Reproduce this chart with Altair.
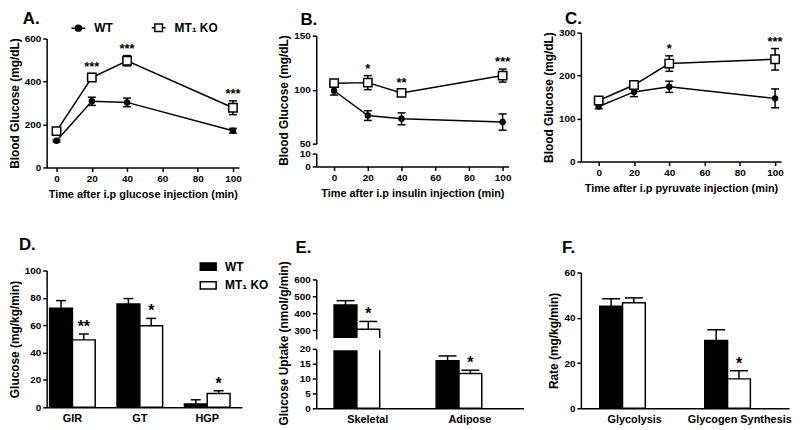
import altair as alt
import pandas as pd

FONT = "Liberation Sans"
SERIES = ["WT", "MT\u2081 KO"]
PANEL_LETTERS = ["A.", "B.", "C.", "D.", "E.", "F."]

# ---------------- data ----------------
TIMES = [0, 20, 40, 100]
TIME_TICKS = [0, 20, 40, 60, 80, 100]

a_wt = [124, 308, 303, 171]
a_wt_err = [5, 19, 20, 11]
a_ko = [169, 419, 497, 278]
a_ko_err = [8, 18, 24, 32]
a_stars = ["", "***", "***", "***"]

b_wt = [99, 76, 73, 70]
b_wt_err = [4, 4.5, 5.5, 7.5]
b_ko = [106, 106.5, 97, 113]
b_ko_err = [2.5, 6.5, 3, 6]
b_stars = ["", "*", "**", "***"]

c_wt = [128, 162, 174, 147]
c_wt_err = [5, 11, 13, 22]
c_ko = [142, 178, 228, 238]
c_ko_err = [5, 8, 18, 25]
c_stars = ["", "", "*", "***"]

d_cats = ["GIR", "GT", "HGP"]
d_wt = [72.5, 75.5, 2.5]
d_wt_err = [5.5, 4, 3]
d_ko = [49.3, 59.7, 10.1]
d_ko_err = [4.3, 5.3, 2]
d_stars = ["**", "*", "*"]

e_cats = ["Skeletal", "Adipose"]
e_wt = [450, 16.0]
e_wt_err = [25, 1.6]
e_ko = [307, 11.7]
e_ko_err = [46, 1.1]
e_stars = ["*", "*"]

f_cats = ["Glycolysis", "Glycogen Synthesis"]
f_wt = [45.1, 30.0]
f_wt_err = [3.3, 4.7]
f_ko = [46.6, 13.0]
f_ko_err = [2.2, 3.6]
f_stars = ["", "*"]


def long_df(keys, wt, wt_err, ko, ko_err, stars):
    rows = []
    for i, k in enumerate(keys):
        for s, m, e, st in ((SERIES[0], wt[i], wt_err[i], ""),
                            (SERIES[1], ko[i], ko_err[i], stars[i])):
            rows.append({"key": k, "series": s, "mean": m,
                         "lo": m - e, "hi": m + e, "star": st})
    return pd.DataFrame(rows)


dfA = long_df(TIMES, a_wt, a_wt_err, a_ko, a_ko_err, a_stars)
dfB = long_df(TIMES, b_wt, b_wt_err, b_ko, b_ko_err, b_stars)
dfC = long_df(TIMES, c_wt, c_wt_err, c_ko, c_ko_err, c_stars)
dfD = long_df(d_cats, d_wt, d_wt_err, d_ko, d_ko_err, d_stars)
dfE = long_df(e_cats, e_wt, e_wt_err, e_ko, e_ko_err, e_stars)
dfF = long_df(f_cats, f_wt, f_wt_err, f_ko, f_ko_err, f_stars)

CAP = "M-1,0H1"
LEFT = 46          # left edge of first-column plot areas
COL_GAP = 58
COL1_W = 318 - COL_GAP - LEFT   # 214
COL2_W = 585 - COL_GAP - 318    # 209


def letter(idx, dx, dy):
    """Panel letter drawn as a text mark just outside the plot's top-left corner."""
    return alt.Chart(pd.DataFrame({"t": [PANEL_LETTERS[idx]]})).mark_text(
        font=FONT, fontSize=17, fontWeight="bold", color="black", align="left",
        baseline="top").encode(x=alt.value(dx), y=alt.value(dy), text="t:N")


def yaxis(values, title, titleY=None):
    kw = dict(values=values, title=title, titleFontSize=12, orient="left")
    if titleY is not None:
        kw["titleY"] = titleY
    return alt.Axis(**kw)


def line_layers(df, xdom, xrange, ydom, yrange, yvals, ytitle, xtitle,
                only_axis=False, titleY=None):
    xs = alt.Scale(domain=xdom, range=xrange, nice=False, zero=False)
    ys = alt.Scale(domain=ydom, range=yrange, nice=False, zero=False)
    xax = alt.Axis(values=TIME_TICKS, title=xtitle, titlePadding=5)
    yax = yaxis(yvals, ytitle, titleY)

    def X():
        return alt.X("key:Q", scale=xs, axis=xax)

    def Y(f):
        return alt.Y(f"{f}:Q", scale=ys, axis=yax)

    base = alt.Chart(df)
    if only_axis:
        return [base.mark_point(opacity=0, clip=True).encode(X(), Y("mean"))]
    return [
        base.mark_line(color="black", strokeWidth=1.5).encode(X(), Y("mean"), detail="series:N"),
        base.mark_rule(color="black", strokeWidth=1.5).encode(X(), Y("lo"), y2="hi:Q"),
        base.mark_point(shape=CAP, size=64, stroke="black", strokeWidth=1.5, filled=False,
                        opacity=1).encode(X(), Y("lo")),
        base.mark_point(shape=CAP, size=64, stroke="black", strokeWidth=1.5, filled=False,
                        opacity=1).encode(X(), Y("hi")),
        base.transform_filter(alt.datum.series == SERIES[0]).mark_circle(
            color="black", size=42, opacity=1).encode(X(), Y("mean")),
        base.transform_filter(alt.datum.series == SERIES[1]).mark_square(
            fill="white", stroke="black", strokeWidth=1.5, size=72, opacity=1).encode(X(), Y("mean")),
        base.transform_filter(alt.datum.star != "").mark_text(
            font=FONT, fontSize=13, fontWeight="bold", color="black", baseline="alphabetic",
            dy=-3).encode(X(), Y("hi"), text="star:N"),
    ]


def band(width, n, first, step, bw):
    pi = 1 - bw / step
    outer = width - step * (n - pi)
    return dict(paddingInner=pi, paddingOuter=outer / (2 * step), align=first / outer,
                range=[0, width])


def bar_layers(df, cats, bandp, ydom, yrange, yvals, ytitle, legend=None, cap=10,
               titleY=None, seg=None):
    xs = alt.Scale(domain=cats, **bandp)
    xax = alt.Axis(title=None, ticks=False, labelPadding=5, labelFontSize=11, labelAngle=0)
    ys = alt.Scale(domain=ydom, range=yrange, nice=False, zero=False, clamp=True)
    yax = yaxis(yvals, ytitle, titleY)
    X = alt.X("key:N", scale=xs, axis=xax, sort=cats)
    XO = alt.XOffset("series:N", scale=alt.Scale(domain=SERIES), sort=SERIES)

    def Y(f):
        return alt.Y(f"{f}:Q", scale=ys, axis=yax)

    fill = alt.Fill("series:N", scale=alt.Scale(domain=SERIES, range=["black", "white"]),
                    legend=legend)
    base = alt.Chart(df)
    bars_base = base
    err_base = base
    if seg is not None:  # keep only what falls inside this axis segment
        bars_base = base.transform_filter(alt.datum.mean > ydom[0])
        err_base = base.transform_filter((alt.datum.hi > ydom[0]) & (alt.datum.hi <= ydom[1]))
    return [
        bars_base.mark_bar(stroke="black", strokeWidth=1.5).encode(X, XO, Y("mean"), fill),
        err_base.mark_rule(color="black", strokeWidth=1.5).encode(X, XO, Y("mean"), y2="hi:Q"),
        err_base.mark_point(shape=CAP, size=cap * cap, stroke="black", strokeWidth=1.5,
                            filled=False, opacity=1).encode(X, XO, Y("hi")),
        err_base.transform_filter(alt.datum.star != "").mark_text(
            font=FONT, fontSize=16, fontWeight="bold", color="black", baseline="alphabetic",
            dy=-2).encode(X, XO, Y("hi"), text="star:N"),
    ]


# ---------------- panel A ----------------
wt_sym = "M-1,0H1M0.42,0A0.42,0.42,0,1,1,-0.42,0A0.42,0.42,0,1,1,0.42,0Z"
ko_sym = "M-1,0H-0.55M0.55,0H1M-0.55,-0.55H0.55V0.55H-0.55Z"
legA = alt.Legend(orient="none", legendX=70 - LEFT, legendY=-13, direction="horizontal",
                  title=None, symbolSize=196, symbolStrokeWidth=1.5, symbolStrokeColor="black",
                  symbolOpacity=1, labelFont=FONT, labelFontSize=12, labelFontWeight="bold",
                  labelColor="black", labelOffset=8, columnPadding=36)
A_layers = line_layers(dfA, [-5.6, 103.4], [0, 194], [0, 600], [136, 6], [0, 200, 400, 600],
                       "Blood Glucose (mg/dL)", "Time after i.p glucose injection (min)")
A_legend = alt.Chart(dfA).transform_filter("false").mark_point(
    filled=True, strokeWidth=1.5, opacity=1).encode(
    x=alt.X("key:Q"), y=alt.Y("mean:Q"),
    shape=alt.Shape("series:N", scale=alt.Scale(domain=SERIES, range=[wt_sym, ko_sym]), legend=legA),
    fill=alt.Fill("series:N", scale=alt.Scale(domain=SERIES, range=["black", "white"]), legend=legA),
    stroke=alt.Stroke("series:N", scale=alt.Scale(domain=SERIES, range=["black", "black"]), legend=legA),
)
panelA = alt.layer(*A_layers, A_legend, letter(0, 22 - LEFT, -22)).properties(
    width=COL1_W, height=136)

# ---------------- panel B (broken axis) ----------------
B_xdom = [-10.6, 103.5]
B_up = alt.layer(*line_layers(dfB, B_xdom, [0, 194], [50, 150], [112, 3], [50, 100, 150],
                              "Blood Glucose (mg/dL)", "Time after i.p insulin injection (min)",
                              titleY=68))
B_low = alt.layer(*line_layers(dfB, B_xdom, [0, 194], [0, 10], [135, 122], [0, 10], None,
                               "Time after i.p insulin injection (min)", only_axis=True))
panelB = alt.layer(B_up, B_low, letter(1, -16, -21)).resolve_scale(y="independent").resolve_axis(
    y="independent").properties(width=COL2_W, height=135)

# ---------------- panel C ----------------
panelC = alt.layer(*line_layers(dfC, [-10.1, 103.4], [0, 202], [0, 300], [130, 0],
                                [0, 100, 200, 300], "Blood Glucose (mg/dL)",
                                "Time after i.p pyruvate injection (min)"),
                   letter(2, -16, -22)).properties(width=202, height=130)

# ---------------- panel D ----------------
rect_sym = "M-1,-0.45H1V0.45H-1Z"
legD = alt.Legend(orient="none", legendX=200 - LEFT, legendY=-13, direction="vertical",
                  title=None, symbolType=rect_sym, symbolSize=256, symbolStrokeWidth=1.5,
                  symbolStrokeColor="black", labelFont=FONT, labelFontSize=12,
                  labelFontWeight="bold", labelColor="black", labelOffset=8, rowPadding=3)
panelD = alt.layer(*bar_layers(dfD, d_cats, band(197, 3, 3, 68, 46), [0, 100], [138, 0],
                               [0, 20, 40, 60, 80, 100], "Glucose (mg/kg/min)",
                               legend=legD, cap=10),
                   letter(3, 18 - LEFT, -34)).properties(width=COL1_W, height=138)

# ---------------- panel E (broken axis) ----------------
bandE = band(209, 2, 18, 103, 68)
E_up = alt.layer(*bar_layers(dfE, e_cats, bandE, [250, 600], [69, 9], [300, 400, 500, 600],
                             "Glucose Uptake (nmol/g/min)", cap=18, titleY=73, seg="up"))
E_low = alt.layer(*bar_layers(dfE, e_cats, bandE, [0, 20], [139, 79], [0, 5, 10, 15, 20], None,
                              cap=18, seg="low"))
E_gap = alt.Chart(pd.DataFrame({"gap": [0]})).mark_rect(color="white").encode(
    x=alt.value(1.5), x2=alt.value(209), y=alt.value(68), y2=alt.value(80.5))
panelE = alt.layer(E_up, E_low, E_gap, letter(4, -21, -31)).resolve_scale(
    y="independent").resolve_axis(y="independent").properties(width=COL2_W, height=139)

# ---------------- panel F ----------------
panelF = alt.layer(*bar_layers(dfF, f_cats, band(210, 2, 19, 106, 70.5), [0, 60], [139, 2],
                               [0, 20, 40, 60], "Rate (mg/kg/min)", cap=18),
                   letter(5, -19, -31)).properties(width=210, height=139)

chart = alt.concat(
    panelA, panelB, panelC, panelD, panelE, panelF,
    columns=3, bounds="flush", spacing={"row": 104, "column": COL_GAP},
).resolve_scale(fill="independent", shape="independent", stroke="independent").properties(
    padding=0
).configure_view(stroke=None).configure_axis(
    grid=False, domainColor="black", domainWidth=1.5, tickColor="black", tickWidth=1.5,
    tickSize=4, labelColor="black", labelFont=FONT, labelFontSize=10, labelFontWeight="bold",
    labelPadding=2, titleColor="black", titleFont=FONT, titleFontSize=11,
    titleFontWeight="bold", titlePadding=3,
)

chart.save("out.html", embed_options={"renderer": "svg", "actions": False})
